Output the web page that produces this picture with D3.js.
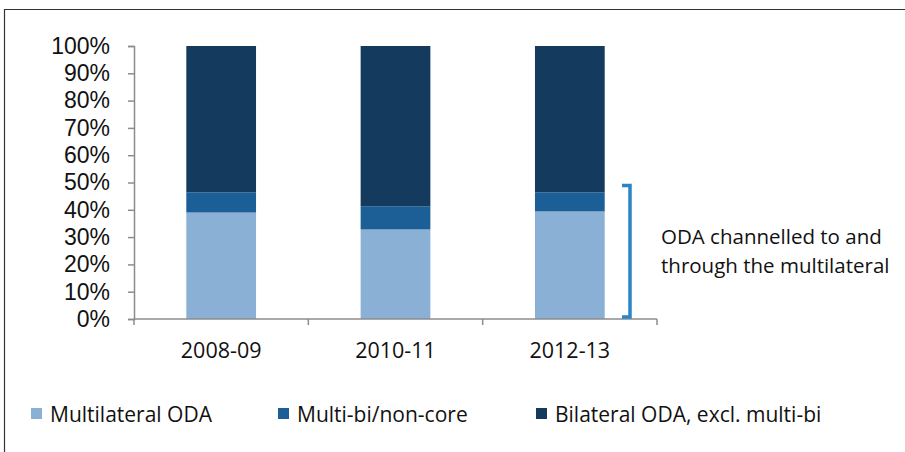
<!DOCTYPE html>
<meta charset="utf-8">
<script src="https://d3js.org/d3.v7.min.js"></script>
<style>
  body { margin: 0; background: #fff; }
  .ytick text { font-family: "Liberation Sans", Arial, sans-serif; font-size: 23px; fill: #111; }
  .xlab, .legend text, .note { font-family: "Open Sans", sans-serif; fill: #111; }
</style>
<div id="viz"></div>
<script>
  // data (shares of total ODA, %)
  const categories = ["2008-09", "2010-11", "2012-13"];
  const multilateral = [39.0, 32.8, 39.4];
  const multiBi = [7.4, 8.5, 7.0];
  const bilateral = [53.6, 58.7, 53.6];
  const seriesNames = ["Multilateral ODA", "Multi-bi/non-core", "Bilateral ODA, excl. multi-bi"];
  const seriesKeys = ["multilateral", "multiBi", "bilateral"];
  const colors = ["#8ab1d5", "#1b5f96", "#143b5e"];
  const yTicks = [0, 10, 20, 30, 40, 50, 60, 70, 80, 90, 100];

  const W = 905, H = 452;
  const plot = {left: 134, right: 657, top: 46, bottom: 319};

  const svg = d3.select("#viz").append("svg")
    .attr("width", W).attr("height", H);

  // frame around the picture
  svg.append("path")
    .attr("d", `M4.5,${H} V9.5 H${W}`)
    .attr("fill", "none").attr("stroke", "#333").attr("stroke-width", 1.2);

  const rows = categories.map((c, i) => ({
    cat: c, multilateral: multilateral[i], multiBi: multiBi[i], bilateral: bilateral[i]
  }));
  const stacked = d3.stack().keys(seriesKeys)(rows);

  const x = d3.scaleBand().domain(categories)
    .range([plot.left, plot.right])
    .paddingInner(0.6).paddingOuter(0.3);
  const y = d3.scaleLinear().domain([0, 100]).range([plot.bottom, plot.top]);

  // bars
  svg.append("g").selectAll("g")
    .data(stacked)
    .join("g")
      .attr("fill", (d, i) => colors[i])
    .selectAll("rect")
    .data(d => d)
    .join("rect")
      .attr("x", d => x(d.data.cat))
      .attr("width", x.bandwidth())
      .attr("y", d => y(d[1]))
      .attr("height", d => y(d[0]) - y(d[1]));

  // y axis
  const yAxis = svg.append("g")
    .attr("class", "ytick")
    .attr("transform", `translate(${plot.left},0)`)
    .call(d3.axisLeft(y).tickValues(yTicks).tickFormat(d => d + "%").tickSize(6).tickPadding(18));
  yAxis.select(".domain").attr("stroke", "#8c8c8c").attr("stroke-width", 1.5);
  yAxis.selectAll(".tick line").attr("stroke", "#8c8c8c").attr("stroke-width", 1.5);

  // x axis: Excel style ticks at category boundaries
  const xg = svg.append("g").attr("transform", `translate(0,${plot.bottom})`);
  xg.append("line")
    .attr("x1", plot.left).attr("x2", plot.right)
    .attr("stroke", "#8c8c8c").attr("stroke-width", 1.5);
  const step = x.step();
  const bounds = d3.range(categories.length + 1).map(i => plot.left + i * step);
  xg.selectAll(".xt").data(bounds).join("line")
    .attr("x1", d => d).attr("x2", d => d)
    .attr("y1", 0).attr("y2", 6)
    .attr("stroke", "#8c8c8c").attr("stroke-width", 1.5);
  xg.selectAll(".xlab").data(categories).join("text")
    .attr("class", "xlab")
    .attr("x", d => x(d) + x.bandwidth() / 2)
    .attr("y", 39)
    .attr("text-anchor", "middle")
    .style("font-size", "21.5px")
    .text(d => d);

  // bracket for multilateral + multi-bi share (drawn a little above the segment)
  const bx = 630;
  const bTop = y(multilateral[2] + multiBi[2] + 2.5);
  svg.append("path")
    .attr("d", `M622,${bTop} H${bx} V${plot.bottom - 2} H622`)
    .attr("fill", "none").attr("stroke", "#2b84c6").attr("stroke-width", 3.5);

  svg.append("text").attr("class", "note")
    .attr("x", 661).attr("y", 244).style("font-size", "20.5px")
    .text("ODA channelled to and");
  svg.append("text").attr("class", "note")
    .attr("x", 661).attr("y", 273).style("font-size", "20.5px")
    .text("through the multilateral");

  // legend
  const legendX = [31, 278, 536];
  const lg = svg.append("g").attr("class", "legend");
  const item = lg.selectAll("g").data(seriesNames).join("g")
    .attr("transform", (d, i) => `translate(${legendX[i]},408)`);
  item.append("rect")
    .attr("width", 11).attr("height", 11)
    .attr("fill", (d, i) => colors[i]);
  item.append("text")
    .attr("x", 19).attr("y", 13.5)
    .style("font-size", "21px")
    .text(d => d);
</script>
